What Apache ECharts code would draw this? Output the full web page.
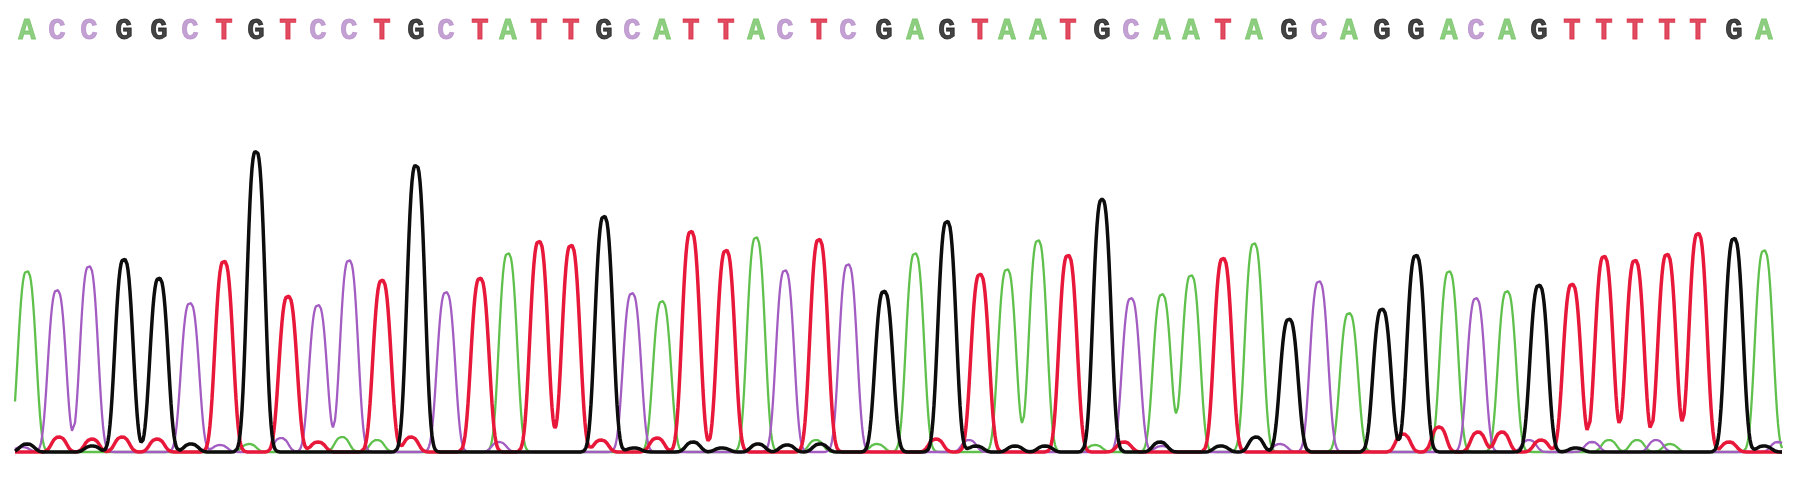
<!DOCTYPE html>
<html>
<head>
<meta charset="utf-8">
<script src="https://cdn.jsdelivr.net/npm/echarts@6/dist/echarts.min.js"></script>
<style>
html, body { margin: 0; background: #fff; }
#chart { width: 1795px; height: 480px; }
</style>
</head>
<body>
<div id="chart"></div>
<script>
// called bases, one per peak
const bases = 'ACCGGCTGTCCTGCTATTGCATTACTCGAGTAATGCAATAGCAGGACAGTTTTTGA'.split('');

// peak centre (scan position) and peak height
const peakPos = [27, 57, 89, 124, 159, 190, 224, 256, 288, 318, 349, 382, 416, 446, 480, 508, 539, 571, 604, 632,
  662, 691, 726, 756, 785, 819, 848, 884, 915, 947, 980, 1007, 1038, 1068, 1102, 1131, 1162, 1191, 1223, 1254,
  1289, 1319, 1349, 1382, 1416, 1449, 1476, 1507, 1539, 1572, 1604, 1635, 1667, 1698, 1734, 1764];
const peakHeight = [181, 162, 186, 193, 174, 149, 191, 301, 156, 147, 192, 172, 287, 160, 174, 199, 211, 207, 236, 159,
  151, 221, 202, 215, 182, 213, 188, 161, 199, 231, 178, 183, 212, 197, 253, 154, 158, 177, 194, 209,
  133, 171, 139, 143, 197, 181, 154, 161, 167, 168, 196, 192, 198, 219, 214, 202];

// small background bumps per channel: [position, height]
const minorA = [[249, 8], [342, 15], [377, 12], [816, 12], [877, 8], [1095, 7], [1609, 12], [1637, 12], [1670, 8]];
const minorC = [[22, 5], [220, 7], [281, 14], [499, 10], [969, 12], [1162, 6], [1280, 8], [1529, 12], [1592, 10], [1656, 12], [1778, 10]];
const minorG = [[27, 8], [92, 6], [191, 8], [634, 4], [693, 10], [722, 4], [758, 8], [787, 7], [820, 8], [976, 6],
  [1015, 6], [1045, 6], [1160, 10], [1221, 6], [1256, 15], [1576, 4], [1764, 6]];
const minorT = [[59, 15], [92, 13], [122, 15], [157, 13], [318, 10], [411, 15], [601, 12], [657, 14], [936, 13],
  [1124, 10], [1403, 18], [1439, 25], [1478, 20], [1502, 20], [1541, 12], [1729, 10]];

const scanStart = 15;
const scanEnd = 1782;

const traceColor = { A: '#5fc14c', C: '#a35dc2', G: '#0d0d0d', T: '#e8183a' };
const letterColor = { A: '#72c262', C: '#b48ac8', G: '#141414', T: '#d91f3a' };
const traceWidth = { A: 2.3, C: 2.3, G: 3.5, T: 3.5 };
const minors = { A: minorA, C: minorC, G: minorG, T: minorT };

// one trace per dye, each peak drawn as a steep bell
function buildTrace(base) {
    const peaks = [];
    bases.forEach((b, i) => { if (b === base) peaks.push([peakPos[i], peakHeight[i], 11]); });
    minors[base].forEach(m => peaks.push([m[0], m[1], 9]));
    const pts = [];
    for (let x = scanStart; x <= scanEnd; x++) {
        let v = 0;
        for (const p of peaks) {
            const d = Math.abs(x - p[0]);
            if (d < 45) v += p[1] * Math.exp(-Math.pow(d / p[2], 2.8));
        }
        pts.push([x, v]);
    }
    return pts;
}

const chart = echarts.init(document.getElementById('chart'));

const order = ['A', 'C', 'T', 'G'];
const series = order.map(b => ({
    name: b,
    type: 'line',
    xAxisIndex: 0,
    yAxisIndex: 0,
    data: buildTrace(b),
    showSymbol: false,
    lineStyle: { color: traceColor[b], width: traceWidth[b] },
    silent: true
}));

// base letters along the top
series.push({
    type: 'scatter',
    xAxisIndex: 1,
    yAxisIndex: 1,
    symbolSize: 0,
    itemStyle: { color: 'rgba(0,0,0,0)' },
    data: bases.map((b, i) => ({
        value: [peakPos[i], 0.5],
        label: { color: letterColor[b], textBorderColor: letterColor[b] }
    })),
    label: {
        show: true,
        position: 'inside',
        formatter: p => bases[p.dataIndex],
        fontFamily: 'Liberation Mono',
        fontWeight: 'bold',
        fontSize: 29,
        textBorderWidth: 0.8
    },
    silent: true
});

chart.setOption({
    animation: false,
    backgroundColor: '#fff',
    grid: [
        { left: 15, right: 13, top: 100, bottom: 25 },
        { left: 15, right: 13, top: 12, height: 40 }
    ],
    xAxis: [
        { type: 'value', gridIndex: 0, min: scanStart, max: scanEnd, show: false },
        { type: 'value', gridIndex: 1, min: scanStart, max: scanEnd, show: false }
    ],
    yAxis: [
        { type: 'value', gridIndex: 0, min: -3, max: 352, show: false },
        { type: 'value', gridIndex: 1, min: 0, max: 1, show: false }
    ],
    series: series
});
</script>
</body>
</html>
